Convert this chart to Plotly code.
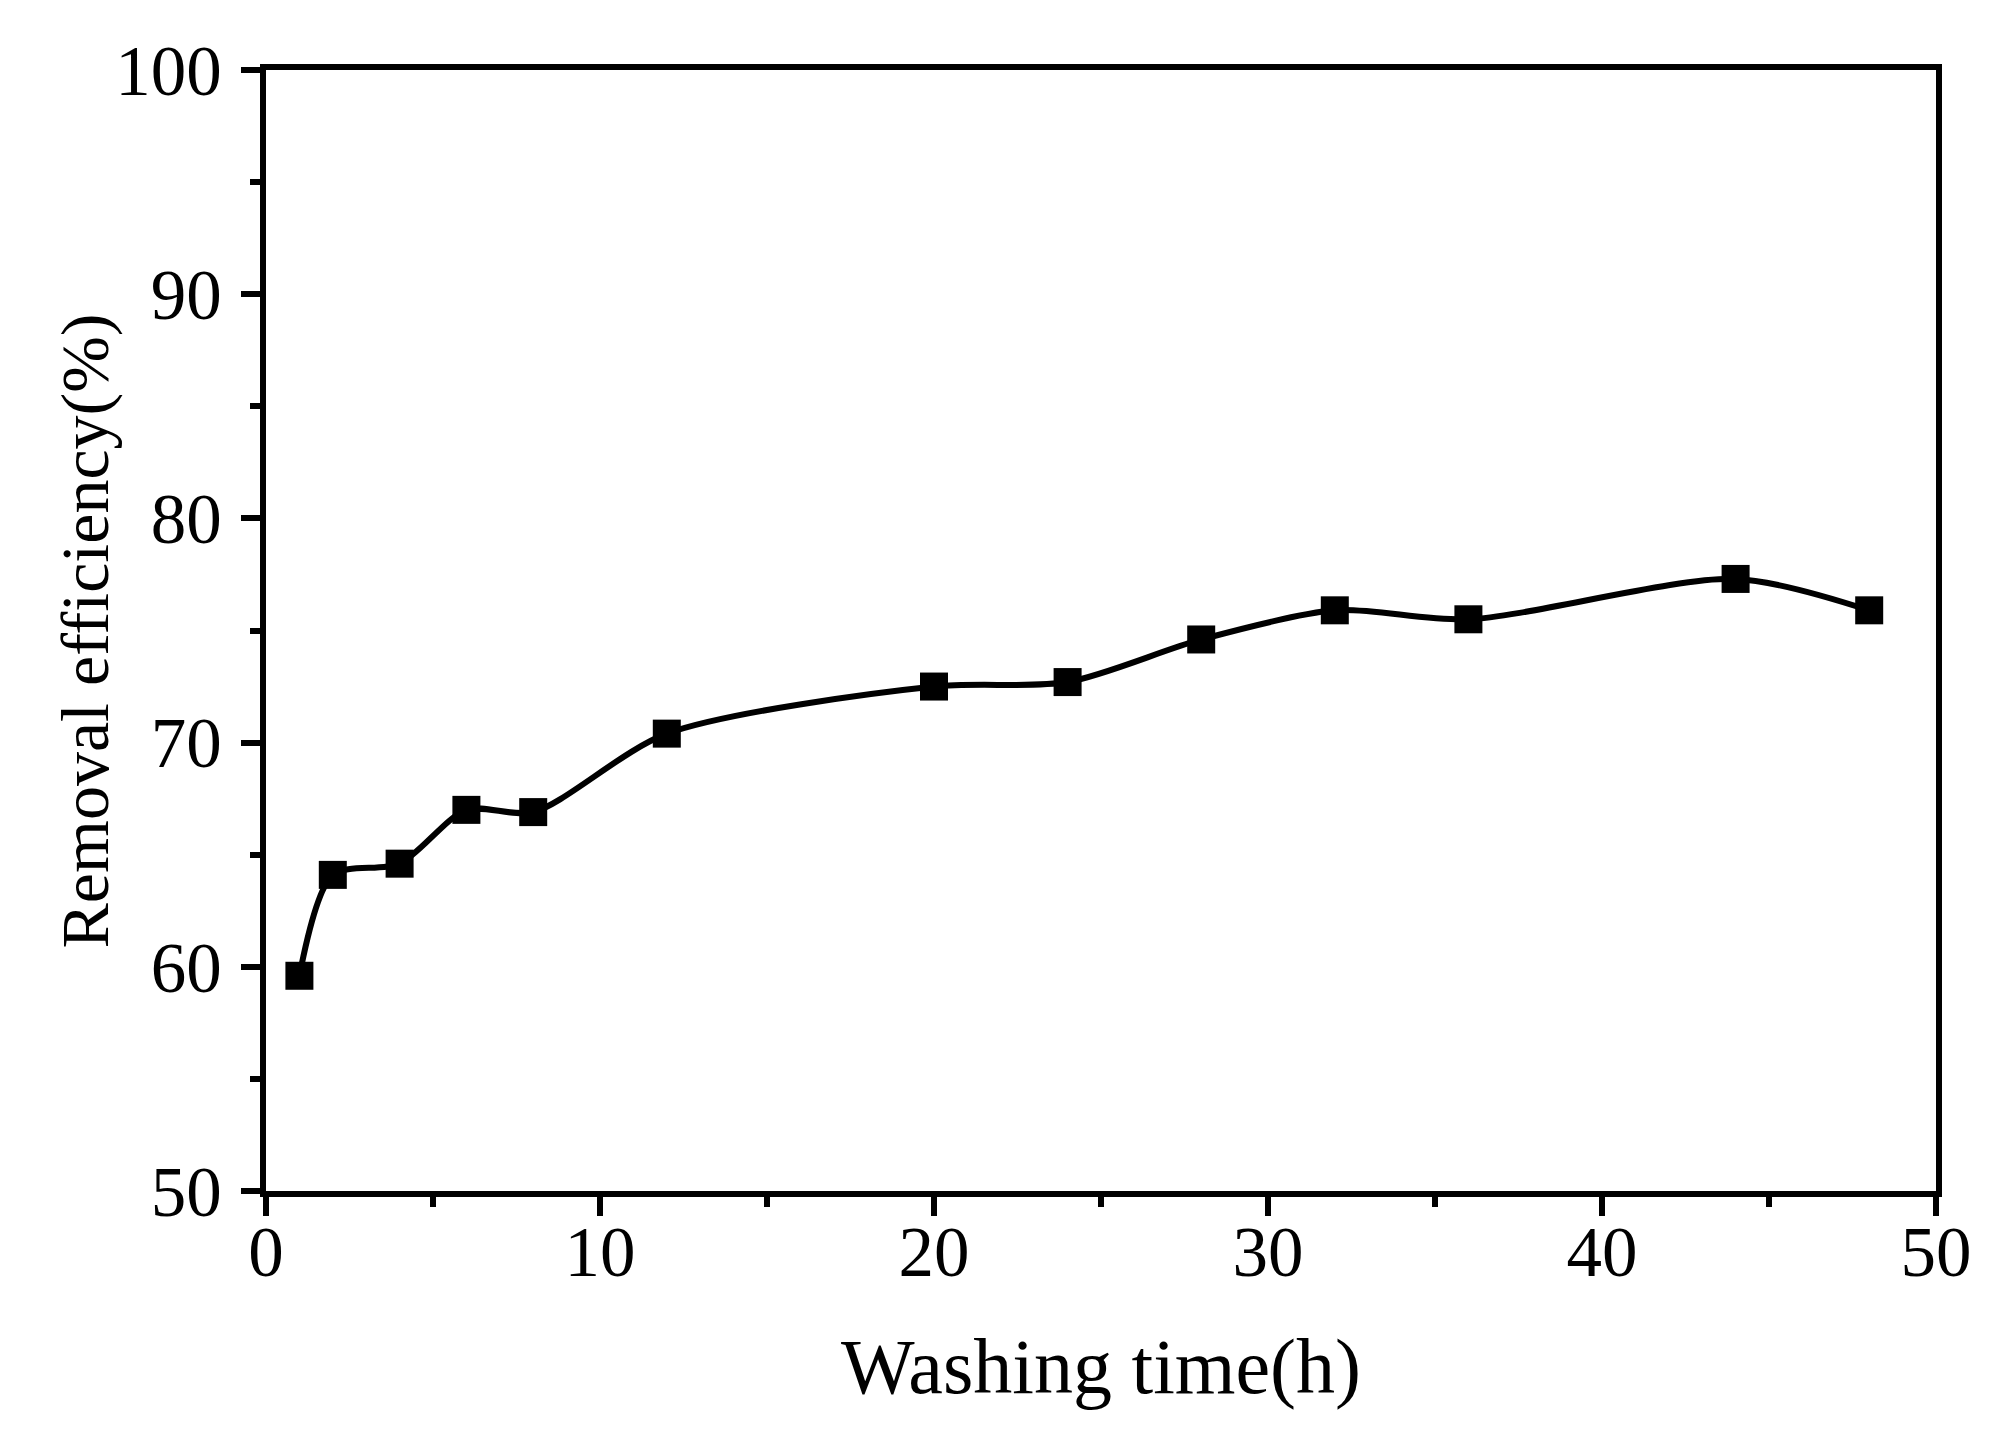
import plotly.graph_objects as go

# Data
washing_time_h = [1, 2, 4, 6, 8, 12, 20, 24, 28, 32, 36, 44, 48]
removal_efficiency = [59.6, 64.1, 64.6, 67.0, 66.9, 70.4, 72.5, 72.7, 74.6, 75.9, 75.5, 77.3, 75.9]

x_ticks = [0, 10, 20, 30, 40, 50]
y_ticks = [50, 60, 70, 80, 90, 100]

FONT = "Liberation Serif, Times New Roman, serif"

fig = go.Figure()
fig.add_trace(go.Scatter(
    x=washing_time_h,
    y=removal_efficiency,
    mode="lines+markers",
    line=dict(color="black", width=6, shape="spline", smoothing=0.8),
    marker=dict(symbol="square", size=28, color="black"),
    showlegend=False,
))

axis_common = dict(
    showline=True, linecolor="black", linewidth=6, mirror=True,
    ticks="outside", ticklen=19, tickwidth=6, tickcolor="black",
    showgrid=False, zeroline=False,
    tickfont=dict(family=FONT, size=71, color="black"),
)

fig.update_xaxes(
    range=[0, 50], tickvals=x_ticks, ticktext=[str(v) for v in x_ticks],
    minor=dict(dtick=5, ticks="outside", ticklen=10, tickwidth=6, tickcolor="black", showgrid=False),
    ticklabelstandoff=-25,
    title=dict(text="Washing time(h)", font=dict(family=FONT, size=78, color="black"), standoff=50),
    **axis_common,
)
fig.update_yaxes(
    range=[50, 100], tickvals=y_ticks, ticktext=[str(v) for v in y_ticks],
    minor=dict(dtick=5, ticks="outside", ticklen=10, tickwidth=6, tickcolor="black", showgrid=False),
    ticklabelstandoff=5,
    **axis_common,
)

# y-axis title as a rotated annotation to place it exactly
fig.add_annotation(
    text="Removal efficiency(%)", textangle=-90,
    xref="paper", yref="paper", x=0, y=0.5,
    xanchor="right", yanchor="middle", xshift=-142,
    showarrow=False,
    font=dict(family=FONT, size=68, color="black"),
)

# page body has an 8px default margin, so the figure is sized to fit the window
fig.update_layout(
    width=1986, height=1423,
    margin=dict(l=258, r=58, t=62, b=240),
    paper_bgcolor="white", plot_bgcolor="white",
    font=dict(family=FONT, color="black"),
)

fig.write_html("out.html")
